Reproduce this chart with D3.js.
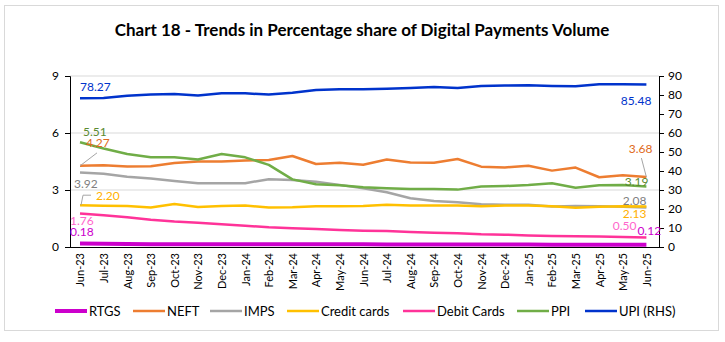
<!DOCTYPE html>
<html lang="en">
<head>
<meta charset="UTF-8">
<title>Chart 18</title>
<script src="https://d3js.org/d3.v7.min.js"></script>
<style>
  body { margin: 0; background: #fff; }
  svg text { font-family: Lato, "Open Sans", sans-serif; }
</style>
</head>
<body>
<svg id="main" width="725" height="342"></svg>
<script>
// data
let months = ['Jun-23','Jul-23','Aug-23','Sep-23','Oct-23','Nov-23','Dec-23','Jan-24','Feb-24','Mar-24','Apr-24','May-24',
    'Jun-24','Jul-24','Aug-24','Sep-24','Oct-24','Nov-24','Dec-24','Jan-25','Feb-25','Mar-25','Apr-25','May-25','Jun-25'];
let rtgs = [0.18,0.17,0.16,0.15,0.15,0.15,0.15,0.14,0.14,0.14,0.14,0.14,0.14,0.13,0.13,0.13,0.13,0.13,0.13,0.13,0.12,0.12,0.12,0.12,0.12];
let neft = [4.27,4.30,4.24,4.25,4.42,4.50,4.50,4.55,4.58,4.79,4.37,4.44,4.33,4.61,4.45,4.44,4.63,4.23,4.19,4.28,4.02,4.18,3.67,3.77,3.68];
let imps = [3.92,3.86,3.70,3.60,3.47,3.36,3.35,3.36,3.57,3.53,3.44,3.27,3.09,2.88,2.57,2.42,2.35,2.25,2.23,2.22,2.13,2.16,2.15,2.12,2.08];
let creditCards = [2.20,2.17,2.16,2.08,2.26,2.11,2.16,2.18,2.08,2.09,2.15,2.14,2.16,2.23,2.18,2.18,2.18,2.14,2.19,2.19,2.15,2.07,2.12,2.15,2.13];
let debitCards = [1.76,1.67,1.57,1.43,1.34,1.28,1.20,1.12,1.04,0.99,0.95,0.90,0.86,0.84,0.79,0.75,0.72,0.67,0.65,0.61,0.58,0.56,0.55,0.53,0.50];
let ppi = [5.51,5.18,4.89,4.72,4.72,4.61,4.89,4.72,4.32,3.56,3.30,3.25,3.14,3.09,3.05,3.05,3.02,3.18,3.21,3.26,3.35,3.12,3.25,3.26,3.19];
let upi = [78.27,78.4,79.6,80.3,80.5,79.8,80.9,80.9,80.2,81.2,82.6,83.0,83.0,83.3,83.7,84.2,83.7,84.7,85.0,85.1,84.8,84.6,85.6,85.6,85.48];
let leftTicks = [0,3,6,9];
let rightTicks = [0,10,20,30,40,50,60,70,80,90];

let series = [
    {name:'RTGS', values:rtgs, color:'#cc00cc', labelColor:'#cc00cc', width:4, axis:'L'},
    {name:'NEFT', values:neft, color:'#ed7d31', labelColor:'#e06a20', width:2.5, axis:'L'},
    {name:'IMPS', values:imps, color:'#a5a5a5', labelColor:'#7f7f7f', width:2.5, axis:'L'},
    {name:'Credit cards', values:creditCards, color:'#ffc000', labelColor:'#ffb000', width:2.5, axis:'L'},
    {name:'Debit Cards', values:debitCards, color:'#ff3399', labelColor:'#ff66cc', width:2.5, axis:'L'},
    {name:'PPI', values:ppi, color:'#70ad47', labelColor:'#5a8a30', width:2.5, axis:'L'},
    {name:'UPI (RHS)', values:upi, color:'#0033cc', labelColor:'#0033cc', width:2.5, axis:'R'}
];

let svg = d3.select('#main');
let plot = {left:70, right:659, top:76, bottom:247};

svg.append('rect').attr('x',4.5).attr('y',5.5).attr('width',714).attr('height',325)
    .attr('fill','#fff').attr('stroke','#d9d9d9');

svg.append('text').attr('x',362).attr('y',36).attr('text-anchor','middle')
    .style('font-size','17px').style('font-weight','bold').style('fill','#000')
    .text('Chart 18 - Trends in Percentage share of Digital Payments Volume');

let x = d3.scalePoint().domain(months).range([80, 646.4]);
let yL = d3.scaleLinear().domain([0,9]).range([plot.bottom, plot.top]);
let yR = d3.scaleLinear().domain([0,90]).range([plot.bottom, plot.top]);

// gridlines
svg.append('g').selectAll('line').data(leftTicks.filter(d => d > 0)).enter().append('line')
    .attr('x1',plot.left).attr('x2',plot.right)
    .attr('y1',d => yL(d)).attr('y2',d => yL(d))
    .attr('stroke','#d9d9d9').attr('stroke-width',1);

// axes
let gL = svg.append('g').attr('transform','translate(' + plot.left + ',0)')
    .call(d3.axisLeft(yL).tickValues(leftTicks).tickSize(5).tickPadding(6));
let gR = svg.append('g').attr('transform','translate(' + plot.right + ',0)')
    .call(d3.axisRight(yR).tickValues(rightTicks).tickSize(5).tickPadding(4));
[gL, gR].forEach(function(g){
    g.selectAll('text').style('font-size','12px').style('fill','#000');
    g.selectAll('line,path').attr('stroke','#000');
});

let gX = svg.append('g').attr('transform','translate(0,' + plot.bottom + ')')
    .call(d3.axisBottom(x).tickSize(0).tickPadding(0));
gX.select('.domain').attr('d','M' + plot.left + ',0.5H' + plot.right).attr('stroke','#000');
gX.selectAll('text')
    .style('font-size','11px').style('fill','#000')
    .attr('text-anchor','end').attr('dy','0.35em')
    .attr('transform','translate(0,6) rotate(-90)');

// lines
let line = d3.line().x((d,i) => x(months[i]));
series.forEach(function(s){
    let yS = s.axis === 'R' ? yR : yL;
    svg.append('path').datum(s.values)
        .attr('fill','none').attr('stroke',s.color).attr('stroke-width',s.width)
        .attr('stroke-linejoin','round')
        .attr('d', line.y(d => yS(d)));
});

// data labels (first and last points)
let labelSpots = [
    {name:'UPI (RHS)', i:0, dx:0, dy:-11, anchor:'start'},
    {name:'PPI', i:0, dx:3, dy:-11, anchor:'start'},
    {name:'NEFT', i:0, dx:6, dy:-23, anchor:'start', leader:[[0,0],[17,-13]]},
    {name:'IMPS', i:0, dx:-6, dy:11.5, anchor:'start'},
    {name:'Credit cards', i:0, dx:16, dy:-9, anchor:'start', leader:[[1,0],[3,-10],[11,-10]]},
    {name:'Debit Cards', i:0, dx:-10, dy:7.5, anchor:'start'},
    {name:'RTGS', i:0, dx:-10, dy:-11.5, anchor:'start'},
    {name:'UPI (RHS)', i:24, dx:5, dy:16, anchor:'end'},
    {name:'NEFT', i:24, dx:6, dy:-28, anchor:'end', leader:[[0,0],[-5,-19]]},
    {name:'PPI', i:24, dx:2, dy:-5, anchor:'end'},
    {name:'IMPS', i:24, dx:0, dy:-6.5, anchor:'end'},
    {name:'Credit cards', i:24, dx:0, dy:7.5, anchor:'end'},
    {name:'Debit Cards', i:24, dx:-10, dy:-11.5, anchor:'end'},
    {name:'RTGS', i:24, dx:-9, dy:-13.5, anchor:'start'}
];
labelSpots.forEach(function(l){
    let s = series.find(d => d.name === l.name);
    let yS = s.axis === 'R' ? yR : yL;
    let px = x(months[l.i]), py = yS(s.values[l.i]);
    if (l.leader) {
        svg.append('path')
            .attr('d', d3.line()(l.leader.map(p => [px + p[0], py + p[1]])))
            .attr('fill','none').attr('stroke','#a5a5a5').attr('stroke-width',1);
    }
    svg.append('text').attr('x',px + l.dx).attr('y',py + l.dy).attr('dy','0.35em')
        .attr('text-anchor',l.anchor)
        .style('font-size','12px').style('fill',s.labelColor)
        .text(s.values[l.i].toFixed(2));
});

// legend
let legendX = [55, 133, 210, 287, 403, 517, 585];
let legend = svg.append('g').attr('transform','translate(0,311)');
series.forEach(function(s, i){
    legend.append('line').attr('x1',legendX[i]).attr('x2',legendX[i] + 32)
        .attr('y1',0).attr('y2',0).attr('stroke',s.color).attr('stroke-width',s.width);
    legend.append('text').attr('x',legendX[i] + 34).attr('y',0).attr('dy','0.35em')
        .style('font-size','13px').style('fill','#000').text(s.name);
});
</script>
</body>
</html>
